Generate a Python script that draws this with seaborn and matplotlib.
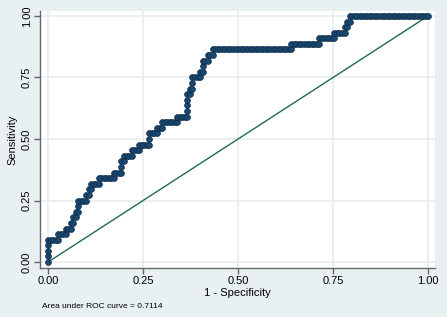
import numpy as np
import pandas as pd
import matplotlib
matplotlib.use('Agg')
import matplotlib.pyplot as plt
import seaborn as sns

# negatives ranked above each positive case
n_neg = 150
pos_rank = [0, 0, 0, 0, 4, 7, 9, 10, 11, 12, 12, 15, 16, 17, 20, 26,
            29, 29, 30, 33, 36, 40, 40, 43, 45, 51, 55, 55, 55, 55,
            56, 57, 57, 60, 61, 61, 63, 65, 96, 107, 113, 117, 118, 119]
ref_x = [0, 1]
ref_y = [0, 1]
ticks = [0, 0.25, 0.5, 0.75, 1.0]
tick_labels = ['0.00', '0.25', '0.50', '0.75', '1.00']

n_pos = len(pos_rank)

# cumulative counts -> one point per cutpoint
fp, tp = [0], [0]
k = 0
for j, r in enumerate(pos_rank, 1):
    while k < r:
        k += 1
        fp.append(k)
        tp.append(j - 1)
    fp.append(k)
    tp.append(j)
while k < n_neg:
    k += 1
    fp.append(k)
    tp.append(n_pos)
roc = pd.DataFrame({'fpr': np.array(fp) / n_neg, 'tpr': np.array(tp) / n_pos})
auc = 1 - np.sum(pos_rank) / (n_pos * n_neg)

bg = '#E9F0F2'
grid_c = '#E6EEF0'
navy = '#1A476F'
green = '#1E6A58'

sns.set_theme(style='white')
plt.rcParams['font.family'] = ['Liberation Sans', 'DejaVu Sans']

fig = plt.figure(figsize=(4.47, 3.17), dpi=100, facecolor=bg)
ax = fig.add_axes([40 / 447, 49 / 317, 395 / 447, 257 / 317])
ax.set_facecolor('white')

sns.lineplot(x=ref_x, y=ref_y, ax=ax, color=green, lw=1.0, zorder=2)
sns.lineplot(data=roc, x='fpr', y='tpr', ax=ax, sort=False, estimator=None,
             color=navy, lw=0.9, marker='o', markersize=4.2,
             markerfacecolor=navy, markeredgecolor='#0E2D4A',
             markeredgewidth=0.5, zorder=3)

ax.set_xlim(-0.021, 1.018)
ax.set_ylim(-0.024, 1.02)
ax.set_xticks(ticks)
ax.set_xticklabels(tick_labels)
ax.set_yticks(ticks)
ax.set_yticklabels(tick_labels, rotation=90, va='center')
ax.grid(True, color=grid_c, lw=1.2)
ax.set_axisbelow(True)

for s in ['top', 'right']:
    ax.spines[s].set_visible(False)
for s in ['left', 'bottom']:
    ax.spines[s].set_color('#666666')
    ax.spines[s].set_linewidth(1.0)
ax.tick_params(direction='out', length=4, width=1, color='#666666',
               labelsize=8, pad=2, labelcolor='black')
ax.tick_params(axis='both', which='both', bottom=True, left=True)

ax.set_xlabel('1 - Specificity', fontsize=8, labelpad=1, color='black')
ax.set_ylabel('Sensitivity', fontsize=8, labelpad=3, color='black')

fig.text(42 / 447, 0.033, f'Area under ROC curve = {auc:.4f}',
         fontsize=6, va='center', color='black')

fig.savefig('out.png', dpi=100, facecolor=bg)
